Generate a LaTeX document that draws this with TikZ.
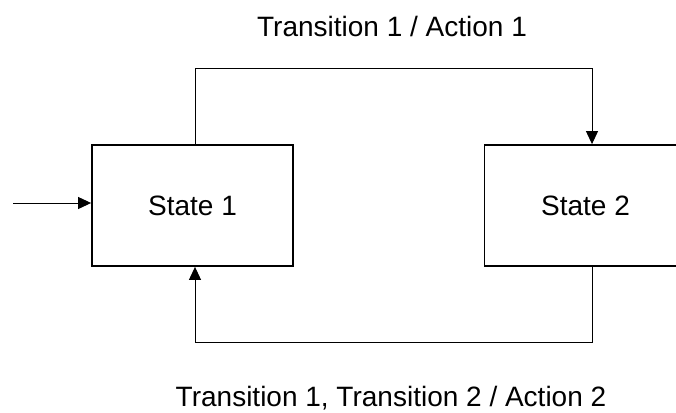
\documentclass[tikz,border=0pt]{standalone}
\usepackage{fontspec}
\setmainfont{Liberation Sans}
\usetikzlibrary{arrows.meta}
\begin{document}
\begin{tikzpicture}[x=1pt,y=-1pt,
  statebox/.style={draw=black,line width=1.8pt,rectangle,minimum height=121pt,inner sep=0pt,
    font=\fontsize{28}{33}\selectfont},
  conn/.style={draw=black,line width=1pt},
  arr/.style={conn,-{Triangle[length=13pt,width=12pt]}},
  lbl/.style={anchor=base,inner sep=0pt,font=\fontsize{28}{33}\selectfont}]
\useasboundingbox (0,0) rectangle (676,412);
\node[statebox,minimum width=201pt] (s1) at (192.5,205.5) {State 1};
\node[statebox,minimum width=202pt] (s2) at (585.5,205.5) {State 2};
\coordinate (t1) at (195,68);
\coordinate (t2) at (592,68);
\coordinate (b2) at (592,342);
\coordinate (b1) at (195,342);
\coordinate (in) at (13,203);
\draw[arr] (s1.north -| t1) -- (t1) -- (t2) -- (s2.north -| t2);
\draw[arr] (s2.south -| b2) -- (b2) -- (b1) -- (s1.south -| b1);
\draw[arr] (in) -- (in -| s1.west);
\node[lbl] (l1) at (392,37) {Transition 1 / Action 1};
\node[lbl] (l2) at (391,406) {Transition 1, Transition 2 / Action 2};
\end{tikzpicture}
\end{document}
